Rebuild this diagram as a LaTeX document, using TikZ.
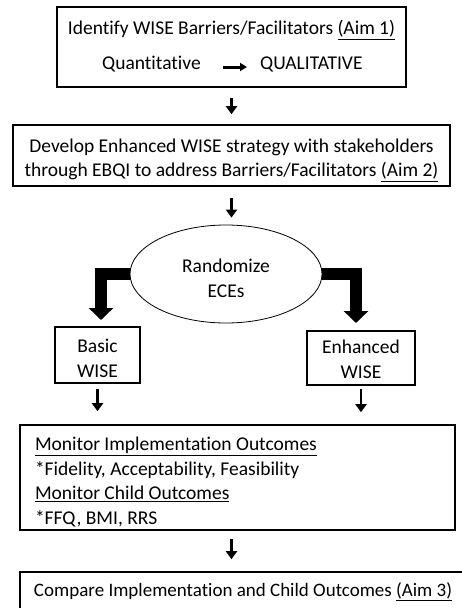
\documentclass[tikz,border=0pt]{standalone}
\usepackage{fontspec}
\setmainfont{Carlito}[Ligatures=NoCommon]
\usetikzlibrary{arrows.meta,shapes.geometric,calc,backgrounds}
\newcommand\lowtab[3]{\raisebox{-#1}[\height][\depth]{\begin{tabular}{@{}#2@{}}#3\end{tabular}}}
\begin{document}
\begin{tikzpicture}[x=1pt,y=-1pt,
  fnt/.style={font=\fontsize{19.5}{24.5}\selectfont},
  box/.style={draw, line width=1.6pt, inner sep=0pt, fnt},
  txt/.style={fnt, inner sep=0pt},
  thinarr/.style={line width=2.8pt, -{Triangle[width=11pt,length=8pt]}},
  bigarr/.style={line width=12pt, line join=miter, -{Triangle[width=24pt,length=12pt]}},
  inarr/.style={line width=3pt, -{Triangle[width=8pt,length=7pt]}},
]
\useasboundingbox (0,0) rectangle (462,608);
\clip (0,0) rectangle (462,608);

% box 1
\node[box, minimum width=349pt, minimum height=80pt] (b1) at (231.5,47) {};
\node[txt] (t1) at (231.5,30) {Identify WISE Barriers/Facilitators \underline{(Aim 1)}};
\node[txt, anchor=mid west] (qn) at (102,67) {Quantitative};
\node[txt, anchor=mid west] (ql) at (260,67) {QUALITATIVE};
\draw[inarr, shorten <=22pt, shorten >=13pt] (qn.mid east) -- (ql.mid west);

% box 2
\node[box, minimum width=437pt, minimum height=61pt] (b2) at (231.5,155.5)
  {\lowtab{4pt}{c}{Develop Enhanced WISE strategy with stakeholders\\through EBQI to address Barriers/Facilitators \underline{(Aim 2)}}};

% ellipse
\node[draw, ellipse, line width=0.8pt, fill=white, minimum width=192pt, minimum height=98pt,
  inner sep=0pt, fnt] (ell) at (226,274) {\lowtab{6pt}{c}{Randomize\\ECEs}};

% arm boxes
\node[box, minimum width=85pt, minimum height=56pt] (basic) at (97.5,355) {\lowtab{5pt}{c}{Basic\\WISE}};
\node[box, minimum width=108pt, minimum height=54pt] (enh) at (361,358) {\lowtab{3pt}{c}{Enhanced\\WISE}};

% monitor box
\node[box, minimum width=435pt, minimum height=105pt] (mon) at (237.5,477.5)
  {\lowtab{5pt}{p{405pt}}{\underline{Monitor Implementation Outcomes}\\{}*Fidelity, Acceptability, Feasibility\\\underline{Monitor Child Outcomes}\\{}*FFQ, BMI, RRS}};

% final box
\node[box, minimum width=470pt, minimum height=40pt] (fin) at (255,592)
  {\makebox[442pt][l]{\fontsize{19}{24}\selectfont Compare Implementation and Child Outcomes \underline{(Aim 3)}}};

% connectors
\draw[thinarr, shorten <=10pt, shorten >=10pt] (b1.south) -- (b1.south |- b2.north);
\draw[thinarr, shorten <=11pt, shorten >=7pt] (b2.south) -- (b2.south |- ell.north);

\coordinate (la) at (101,320);
\coordinate (ra) at (356,323);
\begin{pgfonlayer}{background}
\fill[white] (0,0) rectangle (462,608);
\draw[bigarr] ([xshift=5pt]ell.west) -| (la);
\draw[bigarr] ([xshift=-5pt]ell.east) -| (ra);
\end{pgfonlayer}

\draw[thinarr, shorten <=5pt, shorten >=13pt] (basic.south) -- (basic.south |- mon.north);
\draw[thinarr, shorten <=3pt, shorten >=12pt] (enh.south) -- (enh.south |- mon.north);
\draw[thinarr, shorten <=8pt, shorten >=12pt] (b1.south |- mon.south) -- (b1.south |- fin.north);
\end{tikzpicture}
\end{document}
